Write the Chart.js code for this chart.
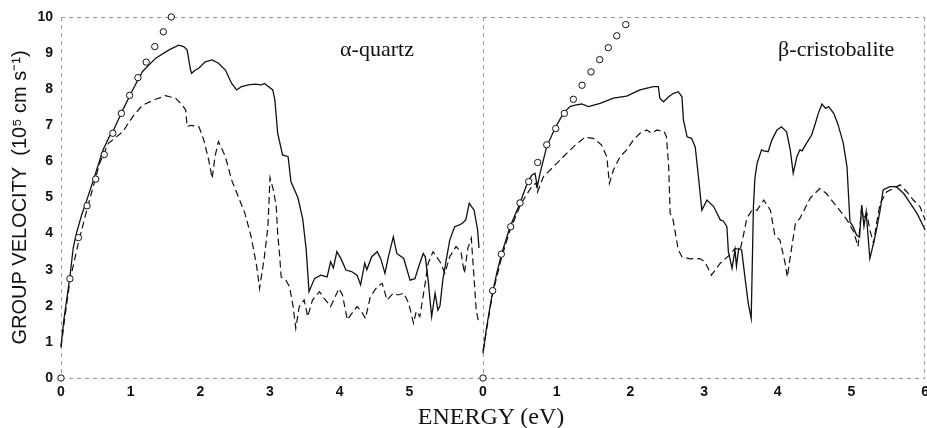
<!DOCTYPE html>
<html><head><meta charset="utf-8">
<script src="https://cdn.jsdelivr.net/npm/chart.js@4.4.0/dist/chart.umd.min.js"></script>
<style>
html,body{margin:0;padding:0;background:#fff;overflow:hidden;width:927px;height:428px;}
#c1{position:absolute;left:0;top:0;}
#c2{position:absolute;left:473px;top:0;}
#xt{position:absolute;left:391px;top:402px;width:200px;text-align:center;font:24px "Liberation Serif";color:#111;line-height:28px;white-space:nowrap;}
</style></head><body>
<canvas id="c1" width="484" height="428"></canvas>
<canvas id="c2" width="462" height="428"></canvas>
<div id="xt">ENERGY (eV)</div>
<script>
// ---------- data: alpha-quartz ----------
const quartzSolidE = [0,0.04,0.081,0.128,0.175,0.22,0.294,0.365,0.46,0.60,0.697,0.75,0.886,1.028,1.17,1.36,1.55,1.69,1.76,1.81,1.86,1.875,1.92,1.976,2.07,2.17,2.26,2.36,2.45,2.52,2.59,2.69,2.78,2.88,2.92,3.04,3.07,3.11,3.18,3.26,3.30,3.40,3.47,3.52,3.56,3.64,3.73,3.82,3.87,3.91,3.96,4.02,4.09,4.17,4.25,4.30,4.36,4.39,4.46,4.54,4.59,4.65,4.70,4.77,4.82,4.92,5.01,5.08,5.15,5.20,5.23,5.27,5.32,5.37,5.41,5.44,5.48,5.53,5.58,5.65,5.72,5.77,5.81,5.86,5.93,5.98,6.0];
const quartzSolidV = [0.87,1.6,2.16,2.8,3.6,4.0,4.5,4.9,5.45,6.3,6.7,6.85,7.42,7.98,8.49,8.86,9.09,9.22,9.18,9.09,8.53,8.44,8.52,8.58,8.76,8.81,8.72,8.53,8.16,7.98,8.07,8.12,8.14,8.12,8.16,7.98,7.70,6.78,6.18,6.13,5.44,5.00,4.40,3.55,2.39,2.76,2.85,2.80,3.22,3.05,3.50,3.30,2.99,2.95,2.85,2.58,3.18,3.00,3.36,3.50,3.30,2.90,3.36,3.91,3.45,3.31,2.71,2.75,3.18,3.45,3.35,2.71,1.70,2.35,1.88,2.00,2.71,3.27,3.82,4.19,4.24,4.30,4.38,4.84,4.65,4.10,3.6];
const quartzDashE = [0,0.05,0.128,0.25,0.37,0.555,0.68,0.77,0.886,1.03,1.17,1.36,1.50,1.645,1.74,1.79,1.81,1.86,1.98,2.05,2.12,2.17,2.21,2.26,2.36,2.45,2.54,2.64,2.73,2.81,2.85,2.92,2.97,3.0,3.05,3.09,3.11,3.14,3.16,3.23,3.28,3.33,3.37,3.42,3.49,3.54,3.61,3.71,3.78,3.87,3.99,4.04,4.11,4.16,4.25,4.31,4.37,4.44,4.54,4.61,4.68,4.77,4.84,4.92,4.99,5.06,5.10,5.15,5.22,5.27,5.34,5.44,5.51,5.58,5.67,5.74,5.79,5.84,5.89,5.96,6.0];
const quartzDashV = [0.85,1.6,2.7,3.75,4.65,5.95,6.5,6.64,6.82,7.24,7.56,7.72,7.82,7.75,7.56,7.42,6.96,7.0,6.96,6.59,6.04,5.53,6.13,6.55,6.13,5.48,5.05,4.56,3.91,3.08,2.48,3.36,4.19,5.55,5.2,4.75,4.0,3.36,2.8,2.7,2.53,2.0,1.38,1.98,2.16,1.70,2.16,2.39,2.2,1.98,2.48,2.3,1.61,1.75,1.98,1.85,1.65,2.25,2.53,2.62,2.16,2.35,2.30,2.35,2.07,1.52,1.85,1.70,2.53,3.18,3.50,3.22,2.90,3.36,3.64,3.50,2.90,3.59,3.87,1.88,1.5];
const quartzCircE = [0,0.128,0.25,0.374,0.498,0.621,0.744,0.867,0.985,1.104,1.223,1.346,1.469,1.583];
const quartzCircV = [0,2.75,3.89,4.77,5.51,6.19,6.78,7.33,7.83,8.32,8.75,9.18,9.59,10.0];

// ---------- data: beta-cristobalite ----------
const cristSolidE = [0,0.05,0.118,0.186,0.254,0.367,0.502,0.593,0.661,0.706,0.737,0.774,0.865,0.977,1.09,1.18,1.25,1.34,1.43,1.59,1.77,1.95,2.13,2.31,2.38,2.40,2.45,2.52,2.58,2.65,2.70,2.72,2.77,2.83,2.88,2.92,2.97,3.04,3.13,3.22,3.26,3.31,3.33,3.38,3.42,3.44,3.47,3.51,3.56,3.60,3.64,3.67,3.69,3.72,3.78,3.81,3.87,3.92,3.99,4.05,4.12,4.17,4.21,4.26,4.30,4.33,4.39,4.46,4.51,4.55,4.60,4.65,4.69,4.76,4.82,4.89,4.94,4.98,5.02,5.07,5.11,5.14,5.17,5.20,5.25,5.30,5.34,5.39,5.43,5.52,5.61,5.71,5.80,5.89,5.98,6.0];
const cristSolidV = [0.68,1.42,2.25,2.90,3.45,4.19,4.84,5.35,5.62,5.67,5.30,5.67,6.41,6.92,7.33,7.52,7.56,7.59,7.52,7.61,7.75,7.81,7.98,8.07,8.07,7.75,7.65,7.79,7.88,7.93,7.79,7.15,6.68,6.64,6.40,5.65,4.65,4.93,4.75,4.38,4.35,4.19,3.50,3.04,3.55,3.10,3.59,3.55,2.71,2.07,1.65,4.75,5.53,5.95,6.32,6.29,6.27,6.59,6.87,6.96,6.82,6.32,5.67,6.13,6.32,6.29,6.50,6.73,7.05,7.33,7.59,7.47,7.52,7.33,7.01,6.50,5.85,4.33,4.20,3.96,3.90,4.79,4.2,4.6,3.31,3.73,4.10,4.65,5.21,5.30,5.30,5.11,4.84,4.56,4.19,4.1];
const cristDashE = [0,0.05,0.118,0.186,0.254,0.367,0.50,0.547,0.66,0.72,0.74,0.82,0.955,1.09,1.23,1.385,1.50,1.61,1.68,1.715,1.77,1.86,1.95,2.04,2.13,2.22,2.29,2.36,2.46,2.49,2.52,2.54,2.58,2.65,2.70,2.81,2.90,2.95,3.01,3.10,3.22,3.35,3.42,3.49,3.53,3.58,3.65,3.72,3.81,3.90,3.96,4.03,4.10,4.13,4.17,4.24,4.30,4.44,4.57,4.66,4.80,4.94,5.03,5.09,5.14,5.16,5.21,5.25,5.30,5.34,5.39,5.48,5.57,5.66,5.75,5.84,5.93,6.0];
const cristDashV = [0.75,1.35,2.2,2.8,3.35,4.1,4.75,4.93,5.30,5.4,5.15,5.58,5.85,6.13,6.41,6.67,6.64,6.45,6.13,5.39,5.76,6.13,6.32,6.59,6.78,6.87,6.78,6.87,6.82,6.68,5.85,4.56,4.38,3.55,3.36,3.30,3.31,3.3,3.22,2.85,3.18,3.41,3.59,3.55,3.91,4.42,4.65,4.65,4.93,4.65,3.96,3.82,3.18,2.80,3.36,4.28,4.42,4.98,5.25,5.11,4.75,4.38,4.05,3.64,4.75,4.40,4.56,4.10,3.73,4.28,4.84,5.16,5.25,5.35,5.16,4.93,4.75,4.38];
const cristCircE = [0,0.131,0.249,0.376,0.502,0.62,0.742,0.865,0.987,1.104,1.226,1.344,1.466,1.584,1.701,1.815,1.937];
const cristCircV = [0,2.42,3.43,4.19,4.85,5.44,5.97,6.46,6.91,7.33,7.72,8.11,8.48,8.82,9.15,9.48,9.79];

// ---------- axis tick labels ----------
const xTicksQuartz = [0,1,2,3,4,5];
const xTicksCrist = [0,1,2,3,4,5,6];
const yTicks = [0,1,2,3,4,5,6,7,8,9,10];
const yTitle = 'GROUP VELOCITY  (10\u2075 cm s\u207B\u00B9)';

const pts = (E, V) => E.map((e, i) => ({x: e, y: V[i]}));
const INK = '#111';
const AXIS = '#9a9a9a';

function datasets(cE, cV, sE, sV, dE, dV) {
  return [
    {data: pts(cE, cV), showLine: false, pointRadius: 3.2, pointBorderWidth: 1, pointBorderColor: INK, pointBackgroundColor: '#fff', clip: false},
    {data: pts(sE, sV), showLine: true, borderColor: INK, borderWidth: 1.3, pointRadius: 0, tension: 0, clip: false},
    {data: pts(dE, dV), showLine: true, borderColor: INK, borderWidth: 1.2, borderDash: [7, 4], pointRadius: 0, tension: 0, clip: false}
  ];
}

function panelLabel(text, fx) {
  return {
    id: 'panelLabel',
    afterDraw(chart) {
      const {ctx, chartArea} = chart;
      ctx.save();
      ctx.font = '22px "Liberation Serif"';
      ctx.fillStyle = INK;
      ctx.textAlign = 'center';
      ctx.textBaseline = 'middle';
      ctx.fillText(text, chartArea.left + fx * chartArea.width, chartArea.top + 33);
      ctx.restore();
    }
  };
}

// faint dashed frame round the plot area (scanned-axis look)
function frame(sides) {
  return {
    id: 'frame',
    beforeDatasetsDraw(chart) {
      const {ctx, chartArea: a} = chart;
      ctx.save();
      ctx.strokeStyle = AXIS;
      ctx.lineWidth = 1;
      ctx.setLineDash([4, 4]);
      ctx.beginPath();
      if (sides.includes('t')) { ctx.moveTo(a.left, a.top + 0.5); ctx.lineTo(a.right, a.top + 0.5); }
      if (sides.includes('b')) { ctx.moveTo(a.left, a.bottom + 0.5); ctx.lineTo(a.right, a.bottom + 0.5); }
      if (sides.includes('l')) { ctx.moveTo(a.left + 0.5, a.top); ctx.lineTo(a.left + 0.5, a.bottom); }
      if (sides.includes('r')) { ctx.moveTo(a.right - 0.5, a.top); ctx.lineTo(a.right - 0.5, a.bottom); }
      ctx.stroke();
      ctx.restore();
    }
  };
}

const tickFont = {family: '"Liberation Sans", Arial, sans-serif', size: 14, weight: 'bold'};

function xScale(ticks) {
  return {
    type: 'linear', position: 'bottom', min: 0, max: 6,
    afterBuildTicks: s => { s.ticks = ticks.map(v => ({value: v})); },
    ticks: {color: INK, font: tickFont, padding: 6, maxRotation: 0, callback: v => String(v)},
    grid: {display: false, drawTicks: false},
    border: {display: false},
    afterFit: s => { s.height = 50; }
  };
}

Chart.defaults.animation = false;

new Chart(document.getElementById('c1'), {
  type: 'scatter',
  data: {datasets: datasets(quartzCircE, quartzCircV, quartzSolidE, quartzSolidV, quartzDashE, quartzDashV)},
  options: {
    responsive: false, devicePixelRatio: 1,
    layout: {padding: {top: 17, right: 1, bottom: 0, left: 0}},
    plugins: {legend: {display: false}, tooltip: {enabled: false}},
    scales: {
      x: xScale(xTicksQuartz),
      y: {
        type: 'linear', position: 'left', min: 0, max: 10,
        afterBuildTicks: s => { s.ticks = yTicks.map(v => ({value: v})); },
        ticks: {color: INK, font: tickFont, padding: 8},
        grid: {display: false, drawTicks: false},
        border: {display: false},
        title: {display: true, text: yTitle, color: INK,
          font: {family: '"Liberation Sans", Arial, sans-serif', size: 20}, padding: {top: 8, bottom: 0}},
        afterFit: s => { s.width = 61; }
      }
    }
  },
  plugins: [frame('tbl'), panelLabel('\u03B1-quartz', 0.756)]
});

new Chart(document.getElementById('c2'), {
  type: 'scatter',
  data: {datasets: datasets(cristCircE, cristCircV, cristSolidE, cristSolidV, cristDashE, cristDashV)},
  options: {
    responsive: false, devicePixelRatio: 1,
    layout: {padding: {top: 17, right: 4, bottom: 0, left: 10}},
    plugins: {legend: {display: false}, tooltip: {enabled: false}},
    scales: {
      x: xScale(xTicksCrist),
      y: {
        type: 'linear', position: 'left', min: 0, max: 10,
        ticks: {display: false}, grid: {display: false, drawTicks: false}, border: {display: false},
        afterFit: s => { s.width = 0; }
      }
    }
  },
  plugins: [frame('tblr'), panelLabel('\u03B2-cristobalite', 0.799)]
});
</script>
</body></html>
